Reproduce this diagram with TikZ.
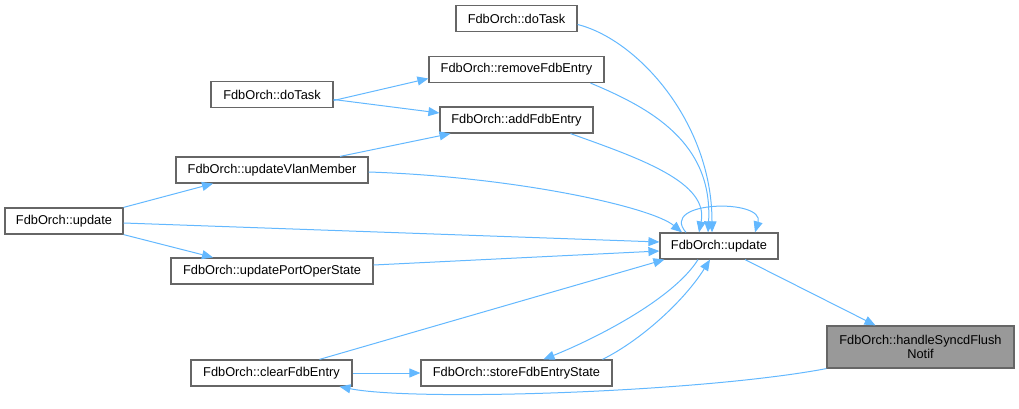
\documentclass[tikz,border=0pt]{standalone}
\usepackage{fontspec}
\setmainfont{Liberation Sans}
\usetikzlibrary{arrows.meta}
\definecolor{edgeblue}{HTML}{63B8FF}
\definecolor{boxborder}{HTML}{666666}
\definecolor{hlfill}{HTML}{999999}
\begin{document}
\begin{tikzpicture}[x=1pt,y=-1pt,
  fn/.style={draw=boxborder,line width=1.2pt,fill=white,minimum height=26pt,inner sep=0pt,
    font=\fontsize{12.8}{14}\selectfont,text=black},
  hl/.style={fn,fill=hlfill,minimum height=42pt,align=center},
  call/.style={draw=edgeblue,line width=1pt,-{Triangle[length=11pt,width=9pt]}}]
\useasboundingbox (0,0) rectangle (1019,409);
\node[fn,minimum width=121pt] (dtT) at (516.5,18.5) {FdbOrch::doTask};
\node[fn,minimum width=175pt] (rm) at (516.5,69.5) {FdbOrch::removeFdbEntry};
\node[fn,minimum width=153pt] (add) at (516.5,120) {FdbOrch::addFdbEntry};
\node[fn,minimum width=122pt] (dtL) at (272,94.5) {FdbOrch::doTask};
\node[fn,minimum width=192pt] (uvm) at (272,170) {FdbOrch::updateVlanMember};
\node[fn,minimum width=118pt] (updL) at (64,221) {FdbOrch::update};
\node[fn,minimum width=202pt] (upo) at (272,271) {FdbOrch::updatePortOperState};
\node[fn,minimum width=161pt] (clr) at (271.5,373) {FdbOrch::clearFdbEntry};
\node[fn,minimum width=191pt] (st) at (516.5,373) {FdbOrch::storeFdbEntryState};
\node[fn,minimum width=118pt] (upd) at (719,246) {FdbOrch::update};
\node[hl,minimum width=187pt] (hnd) at (920.5,347) {FdbOrch::handleSyncdFlush\\Notif};

% left side calls
\draw[call] ([yshift=-6pt]dtL.east) -- ([yshift=-9pt]rm.west);
\draw[call] ([yshift=-5pt]dtL.east) -- ([yshift=7pt]add.west);
\draw[call] ([xshift=68pt]uvm.north) -- ([xshift=-66pt]add.south);
\draw[call] (updL.north east) -- ([xshift=-59pt]uvm.south);
\draw[call] (updL.south east) -- ([xshift=-59pt]upo.north);

% calls into update
\draw[call] ([yshift=-6pt]dtT.east) .. controls +(60,15) and +(0,-110) .. ([xshift=-7pt]upd.north);
\draw[call] ([xshift=74pt]rm.south) .. controls +(60,25) and +(5,-90) .. ([xshift=-11pt]upd.north);
\draw[call] ([xshift=54pt]add.south) .. controls +(70,25) and +(10,-50) .. ([xshift=-20pt]upd.north);
\draw[call] ([yshift=-2pt]uvm.east) .. controls +(150,5) and +(-30,-25) .. ([xshift=-37pt]upd.north);
\draw[call] ([yshift=-2pt]updL.east) -- ([yshift=4pt]upd.west);
\draw[call] ([yshift=6pt]upo.east) -- ([yshift=-5pt]upd.west);
\draw[call] ([xshift=48pt]clr.north) -- ([xshift=5pt]upd.south west);
\draw[call] ([xshift=86pt]st.north) .. controls +(40,-20) and +(-25,40) .. ([xshift=-9pt]upd.south);
\draw[call] ([xshift=-21pt]upd.south) .. controls +(-25,40) and +(50,-20) .. ([xshift=27pt]st.north);
\draw[call] ([xshift=-33pt]upd.north) .. controls +(-28,-32) and +(10,-34) .. ([xshift=36pt]upd.north);

% update -> handle, handle -> clear, clear -> store
\draw[call] ([xshift=26pt]upd.south) -- ([xshift=-45pt]hnd.north);
\draw[call] (hnd.south west) .. controls +(-127,24) and +(75,15) .. ([xshift=68pt]clr.south);
\draw[call] (clr.east) -- (st.west);
\end{tikzpicture}
\end{document}
